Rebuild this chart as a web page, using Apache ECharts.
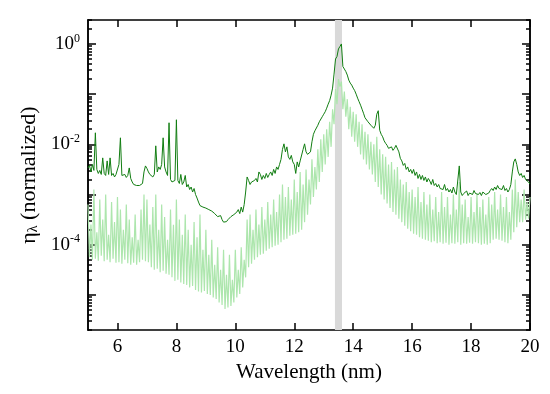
<!DOCTYPE html>
<html><head><meta charset="utf-8">
<script src="https://cdn.jsdelivr.net/npm/echarts@6/dist/echarts.min.js"></script>
<style>html,body{margin:0;padding:0;background:#fff}#c{width:550px;height:394px}</style>
</head><body><div id="c"></div>
<script>
// wavelength grid (nm)
const wavelength = [
5.00,5.05,5.10,5.15,5.20,5.25,5.30,5.35,5.40,5.45,5.50,5.55,5.60,5.65,5.70,5.75,5.80,5.85,5.90,5.95,
6.00,6.05,6.10,6.15,6.20,6.25,6.30,6.35,6.40,6.45,6.50,6.55,6.60,6.65,6.70,6.75,6.80,6.85,6.90,6.95,
7.00,7.05,7.10,7.15,7.20,7.25,7.30,7.35,7.40,7.45,7.50,7.55,7.60,7.65,7.70,7.75,7.80,7.85,7.90,7.95,
8.00,8.05,8.10,8.15,8.20,8.25,8.30,8.35,8.40,8.45,8.50,8.55,8.60,8.65,8.70,8.75,8.80,8.85,8.90,8.95,
9.00,9.05,9.10,9.15,9.20,9.25,9.30,9.35,9.40,9.45,9.50,9.55,9.60,9.65,9.70,9.75,9.80,9.85,9.90,9.95,
10.00,10.05,10.10,10.15,10.20,10.25,10.30,10.35,10.40,10.45,10.50,10.55,10.60,10.65,10.70,10.75,10.80,10.85,10.90,10.95,
11.00,11.05,11.10,11.15,11.20,11.25,11.30,11.35,11.40,11.45,11.50,11.55,11.60,11.65,11.70,11.75,11.80,11.85,11.90,11.95,
12.00,12.05,12.10,12.15,12.20,12.25,12.30,12.35,12.40,12.45,12.50,12.55,12.60,12.65,12.70,12.75,12.80,12.85,12.90,12.95,
13.00,13.05,13.10,13.15,13.20,13.25,13.30,13.35,13.40,13.45,13.50,13.55,13.60,13.65,13.70,13.75,13.80,13.85,13.90,13.95,
14.00,14.05,14.10,14.15,14.20,14.25,14.30,14.35,14.40,14.45,14.50,14.55,14.60,14.65,14.70,14.75,14.80,14.85,14.90,14.95,
15.00,15.05,15.10,15.15,15.20,15.25,15.30,15.35,15.40,15.45,15.50,15.55,15.60,15.65,15.70,15.75,15.80,15.85,15.90,15.95,
16.00,16.05,16.10,16.15,16.20,16.25,16.30,16.35,16.40,16.45,16.50,16.55,16.60,16.65,16.70,16.75,16.80,16.85,16.90,16.95,
17.00,17.05,17.10,17.15,17.20,17.25,17.30,17.35,17.40,17.45,17.50,17.55,17.60,17.65,17.70,17.75,17.80,17.85,17.90,17.95,
18.00,18.05,18.10,18.15,18.20,18.25,18.30,18.35,18.40,18.45,18.50,18.55,18.60,18.65,18.70,18.75,18.80,18.85,18.90,18.95,
19.00,19.05,19.10,19.15,19.20,19.25,19.30,19.35,19.40,19.45,19.50,19.55,19.60,19.65,19.70,19.75,19.80,19.85,19.90,19.95,
20.00];

// log10 of normalized efficiency, dark green trace
const darkLog = [
-2.47,-2.42,-2.55,-2.40,-2.52,-1.77,-2.50,-2.58,-2.52,-2.60,-2.27,-2.58,-2.62,-2.33,-2.60,-2.27,-2.62,-2.58,-2.65,-2.60,
-2.62,-2.40,-1.87,-2.62,-2.65,-2.60,-2.66,-2.62,-2.47,-2.68,-2.75,-2.80,-2.83,-2.82,-2.85,-2.82,-2.83,-2.78,-2.55,-2.43,
-2.48,-2.55,-2.60,-2.58,-2.65,-2.60,-2.03,-2.55,-2.45,-2.50,-2.40,-1.87,-2.45,-2.55,-2.62,-1.57,-2.70,-2.75,-2.78,-2.72,
-1.51,-2.72,-2.78,-2.60,-2.80,-2.75,-2.62,-2.85,-2.80,-2.90,-2.85,-2.95,-2.88,-3.00,-3.07,-3.15,-3.22,-3.20,-3.25,-3.22,
-3.27,-3.25,-3.30,-3.28,-3.33,-3.35,-3.38,-3.40,-3.44,-3.47,-3.42,-3.50,-3.55,-3.57,-3.54,-3.50,-3.47,-3.44,-3.45,-3.40,
-3.42,-3.35,-3.30,-3.38,-3.25,-3.35,-3.20,-2.95,-2.65,-2.72,-2.80,-2.75,-2.78,-2.72,-2.68,-2.75,-2.55,-2.60,-2.70,-2.62,
-2.68,-2.58,-2.66,-2.60,-2.55,-2.62,-2.50,-2.58,-2.45,-2.50,-2.40,-2.30,-2.10,-1.99,-2.15,-2.05,-2.25,-2.30,-2.22,-2.35,
-2.40,-2.58,-2.35,-2.45,-2.33,-2.30,-2.10,-1.99,-2.15,-2.20,-2.18,-2.15,-1.95,-1.80,-1.73,-1.70,-1.62,-1.55,-1.52,-1.45,
-1.40,-1.35,-1.28,-1.20,-1.13,-1.02,-0.88,-0.60,-0.30,-0.25,-0.10,-0.05,0.00,-0.45,-0.50,-0.55,-0.62,-0.72,-0.78,-0.82,
-0.88,-0.93,-1.00,-1.08,-1.15,-1.22,-1.30,-1.38,-1.47,-1.50,-1.55,-1.58,-1.62,-1.60,-1.68,-1.62,-1.40,-1.33,-1.72,-1.80,
-1.85,-1.93,-1.98,-2.02,-2.08,-2.10,-2.05,-2.12,-2.08,-2.02,-1.99,-2.15,-2.28,-2.33,-2.42,-2.38,-2.50,-2.45,-2.55,-2.50,
-2.58,-2.50,-2.62,-2.55,-2.68,-2.60,-2.70,-2.62,-2.72,-2.65,-2.75,-2.68,-2.73,-2.80,-2.70,-2.82,-2.78,-2.85,-2.80,-2.88,
-2.85,-2.90,-2.80,-2.92,-2.88,-2.95,-2.90,-2.97,-2.85,-2.95,-3.00,-2.97,-2.43,-2.95,-3.02,-2.98,-3.00,-2.93,-3.02,-2.97,
-2.95,-3.00,-2.92,-2.98,-2.95,-3.00,-2.96,-3.02,-2.95,-2.98,-3.00,-3.03,-2.97,-2.92,-2.88,-2.92,-2.85,-2.90,-2.82,-2.88,
-2.85,-2.90,-2.82,-2.92,-2.88,-2.95,-2.90,-2.80,-2.55,-2.35,-2.29,-2.40,-2.55,-2.62,-2.58,-2.66,-2.62,-2.70,-2.68,-2.75,
-2.79];

// log10 of normalized efficiency, light green trace
const lightLog = [
-3.20,-4.25,-3.60,-4.30,-2.90,-4.28,-3.75,-4.32,-3.10,-4.22,-3.50,-4.33,-3.00,-4.30,-3.80,-4.35,-3.15,-4.28,-3.55,-4.36,
-3.05,-4.35,-3.30,-4.38,-3.70,-4.30,-3.20,-4.37,-3.50,-4.40,-3.85,-4.36,-3.40,-4.40,-3.90,-4.35,-3.30,-4.30,-3.00,-4.33,
-3.10,-4.35,-3.60,-4.45,-3.25,-4.50,-3.00,-4.48,-3.70,-4.55,-3.20,-4.52,-3.45,-4.58,-3.90,-4.60,-3.30,-4.65,-3.60,-4.72,
-3.10,-4.70,-3.50,-4.75,-3.80,-4.78,-3.40,-4.80,-3.70,-4.85,-4.00,-4.82,-3.55,-4.90,-3.85,-4.93,-3.40,-4.95,-4.10,-4.92,
-3.70,-4.98,-4.20,-5.00,-3.90,-5.05,-4.40,-5.08,-4.05,-5.15,-4.50,-5.20,-4.10,-5.28,-4.60,-5.25,-4.20,-5.22,-4.70,-5.15,
-4.10,-5.05,-4.50,-4.98,-4.05,-4.85,-4.30,-4.65,-3.50,-4.45,-3.40,-4.38,-3.70,-4.30,-3.30,-4.25,-3.60,-4.20,-3.25,-4.18,
-3.50,-4.12,-3.15,-4.08,-3.40,-4.05,-3.10,-4.02,-3.35,-4.00,-3.00,-3.95,-2.80,-3.90,-3.05,-3.88,-2.85,-3.82,-3.10,-3.80,
-2.70,-3.78,-2.95,-3.75,-2.55,-3.70,-2.80,-3.55,-2.50,-3.40,-2.70,-3.20,-2.30,-3.05,-2.45,-2.90,-2.10,-2.75,-1.90,-2.55,
-1.80,-2.40,-1.70,-2.25,-1.55,-2.05,-1.30,-1.60,-0.90,-1.20,-0.70,-0.85,-0.75,-1.30,-0.95,-1.45,-1.10,-1.70,-1.25,-1.85,
-1.35,-1.95,-1.40,-2.05,-1.55,-2.20,-1.60,-2.30,-1.75,-2.40,-1.80,-2.50,-1.95,-2.60,-2.00,-2.75,-1.85,-2.85,-2.10,-3.00,
-2.20,-3.10,-2.25,-3.18,-2.40,-3.27,-2.35,-3.35,-2.50,-3.40,-2.45,-3.48,-2.70,-3.55,-2.80,-3.62,-2.75,-3.68,-2.95,-3.73,
-2.90,-3.78,-3.05,-3.80,-2.85,-3.85,-3.15,-3.88,-2.95,-3.90,-3.20,-3.92,-3.00,-3.95,-3.30,-3.93,-3.05,-3.97,-3.35,-3.95,
-2.95,-3.98,-3.25,-3.96,-3.05,-4.00,-3.40,-3.97,-3.00,-3.98,-3.30,-3.95,-2.75,-4.00,-3.20,-3.97,-3.10,-3.98,-3.45,-3.96,
-3.05,-3.98,-3.35,-3.95,-3.00,-3.97,-3.25,-4.00,-3.10,-3.98,-3.40,-4.00,-3.05,-3.97,-3.20,-3.90,-2.95,-3.88,-3.30,-3.90,
-3.00,-3.92,-3.25,-3.95,-3.05,-3.97,-3.35,-3.90,-2.90,-3.75,-2.70,-3.65,-2.95,-3.55,-3.10,-3.55,-2.90,-3.50,-3.15,-3.48,
-3.05];

const xTicks = [6, 8, 10, 12, 14, 16, 18, 20];
const yDecadeTicks = [1e-5, 1e-4, 1e-3, 1e-2, 1e-1, 1];
const yLabelTicks = [1e-4, 1e-2, 1];
const bandRange = [13.38, 13.62];

const yMin = 2e-6, yMax = 3;
const yMinorTicks = [];
for (let d = -6; d <= 0; d++) {
  for (let m = 2; m <= 9; m++) {
    const v = m * Math.pow(10, d);
    if (v >= yMin && v <= yMax) yMinorTicks.push(v);
  }
}

const darkData = wavelength.map((w, i) => [w, Math.pow(10, darkLog[i])]);
const lightData = wavelength.map((w, i) => [w, Math.pow(10, lightLog[i])]);

const FONT = '"Liberation Serif", "Times New Roman", serif';
const axisLineStyle = { show: true, lineStyle: { color: '#000', width: 1.5 } };

function yAxisDef(pos, ticks, len, labels) {
  return {
    type: 'log', position: pos, min: yMin, max: yMax, logBase: 10,
    axisLine: axisLineStyle,
    axisTick: { show: true, inside: true, length: len, customValues: ticks, lineStyle: { color: '#000', width: 1.5 } },
    axisLabel: labels ? {
      show: true, customValues: yLabelTicks, margin: 8, fontFamily: FONT,
      formatter: v => '{b|10}{s|' + String(Math.round(Math.log10(v))) + '}',
      rich: {
        b: { fontSize: 19, fontFamily: FONT, color: '#000' },
        s: { fontSize: 12, fontFamily: FONT, color: '#000', padding: [0, 0, 11, 0] }
      }
    } : { show: false },
    splitLine: { show: false }, minorTick: { show: false }
  };
}

function xAxisDef(pos, labels) {
  return {
    type: 'value', position: pos, min: 5, max: 20,
    axisLine: axisLineStyle,
    axisTick: { show: true, inside: true, length: 7, customValues: xTicks, lineStyle: { color: '#000', width: 1.5 } },
    axisLabel: labels ? { show: true, customValues: xTicks, fontSize: 19, fontFamily: FONT, color: '#000', margin: 8 } : { show: false },
    splitLine: { show: false }
  };
}

const xb = xAxisDef('bottom', true);
xb.name = 'Wavelength (nm)';
xb.nameLocation = 'middle';
xb.nameGap = 31;
xb.nameTextStyle = { fontSize: 21, fontFamily: FONT, color: '#000' };
const xt = xAxisDef('top', false);

const y0 = yAxisDef('left', yDecadeTicks, 8, true);
y0.name = '{a|η}{l|λ}{a| (normalized)}';
y0.nameLocation = 'middle';
y0.nameGap = 46;
y0.nameRotate = 90;
y0.nameTextStyle = {
  fontFamily: FONT, color: '#000',
  rich: {
    a: { fontSize: 22, fontFamily: FONT, color: '#000' },
    l: { fontSize: 14, fontFamily: FONT, color: '#000', padding: [8, 0, 0, 0] }
  }
};
const y1 = yAxisDef('left', yMinorTicks, 4, false);
const y2 = yAxisDef('right', yDecadeTicks, 8, false);
const y3 = yAxisDef('right', yMinorTicks, 4, false);

const chart = echarts.init(document.getElementById('c'), null, { renderer: 'canvas' });
chart.setOption({
  animation: false,
  backgroundColor: '#fff',
  grid: { left: 88, right: 20, top: 20, bottom: 64, containLabel: false },
  xAxis: [xb, xt],
  yAxis: [y0, y1, y2, y3],
  series: [
    {
      type: 'line', data: [], xAxisIndex: 0, yAxisIndex: 0, z: 1, silent: true,
      markArea: { silent: true, itemStyle: { color: '#d9d9d9' }, data: [[{ xAxis: bandRange[0] }, { xAxis: bandRange[1] }]] }
    },
    {
      name: 'light', type: 'line', data: lightData, xAxisIndex: 0, yAxisIndex: 0, zlevel: 1, z: 2,
      showSymbol: false, symbol: 'none', lineStyle: { color: '#ade6ad', width: 1.2 }
    },
    {
      name: 'dark', type: 'line', data: darkData, xAxisIndex: 0, yAxisIndex: 0, zlevel: 1, z: 3,
      showSymbol: false, symbol: 'none', lineStyle: { color: '#117d11', width: 1 }
    }
  ]
});
</script></body></html>
